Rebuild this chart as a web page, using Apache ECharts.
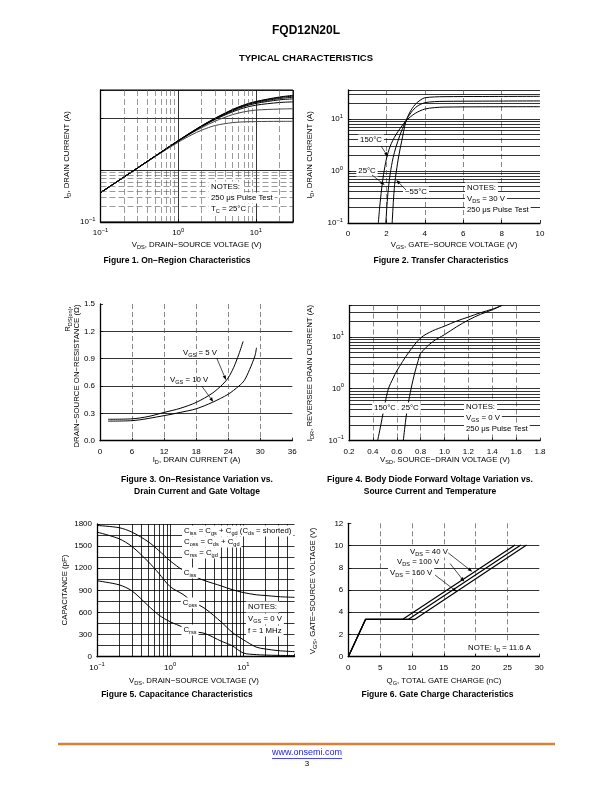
<!DOCTYPE html>
<html><head><meta charset="utf-8">
<script src="https://cdn.jsdelivr.net/npm/echarts@6/dist/echarts.min.js"></script>
<style>html,body{margin:0;padding:0;background:#fff}#c{width:612px;height:792px}</style>
</head><body><div id="c"></div>
<script>
// ---------- DATA ----------
// Figure 1: On-Region Characteristics (VDS vs ID, several VGS)
const fig1Vds = [0.1,0.2,0.5,1,1.5,2,3,5,7,10,20,30];
const fig1Id_a = [0.37,0.74,1.83,3.5,4.9,6.0,7.4,8.4,8.7,8.8,8.9,8.9];
const fig1Id_b = [0.37,0.74,1.85,3.65,5.3,6.7,9.0,12.0,13.6,14.7,15.4,15.6];
const fig1Id_c = [0.37,0.74,1.86,3.7,5.4,7.0,9.7,13.6,16.2,18.3,20.6,21.2];
const fig1Id_d = [0.37,0.74,1.86,3.72,5.45,7.1,9.9,14.2,17.2,19.8,23.2,24.2];
const fig1Id_e = [0.37,0.74,1.87,3.74,5.5,7.2,10.1,14.6,17.8,20.6,24.6,26.0];
const fig1Id_f = [0.37,0.74,1.87,3.76,5.55,7.25,10.2,14.9,18.2,21.2,25.7,27.4];
const fig1Id_g = [0.37,0.74,1.88,3.78,5.6,7.3,10.3,15.1,18.5,21.6,26.3,28.4];
// Figure 2: Transfer Characteristics
const fig2Vgs_150 = [1.58,1.65,1.75,1.85,2.0,2.2,2.5,3.0,3.5,4.0,4.5,5,7,10];
const fig2Id_150  = [0.1,0.2,0.45,0.85,1.7,3.0,5.0,9.0,12.8,15.5,16.5,16.9,17.1,17.2];
const fig2Vgs_25  = [1.97,2.03,2.1,2.2,2.35,2.5,2.7,3.0,3.3,3.6,4.0,4.5,5,7,10];
const fig2Id_25   = [0.1,0.22,0.45,0.9,1.8,2.9,4.8,9.0,13.5,17.5,20.5,21.5,21.8,22,22.2];
const fig2Vgs_m55 = [2.3,2.36,2.43,2.52,2.65,2.8,3.0,3.2,3.5,3.8,4.0,4.5,5,7,10];
const fig2Id_m55  = [0.1,0.25,0.55,1.0,2.0,3.8,8.5,13,19,23.5,25.5,26.5,26.8,27,27.2];
// Figure 3: On-Resistance vs Drain Current
const fig3Id_5v  = [1.5,6,9,12,15,18,21,23,24,25,26,26.8];
const fig3R_5v   = [0.235,0.24,0.265,0.31,0.355,0.42,0.52,0.62,0.69,0.8,0.95,1.09];
const fig3Id_10v = [1.5,6,12,15,18,21,24,26,27,28,29,29.3];
const fig3R_10v  = [0.215,0.22,0.275,0.31,0.35,0.42,0.51,0.6,0.66,0.78,0.93,1.02];
// Figure 4: Body Diode Forward Voltage
const fig4Vsd_150 = [0.44,0.47,0.5,0.53,0.57,0.6,0.7,0.8,0.9,1.0,1.1,1.2,1.3,1.4,1.48];
const fig4Idr_150 = [0.1,0.22,0.5,1.0,1.6,2.2,5,9.5,13,16,20,24,29,34,40];
const fig4Vsd_25  = [0.655,0.675,0.695,0.72,0.75,0.78,0.8,0.9,1.0,1.1,1.2,1.3,1.4,1.48];
const fig4Idr_25  = [0.1,0.25,0.5,1.0,2.0,3.5,4.8,8,11,15.5,21,27,33,40];
// Figure 5: Capacitance Characteristics
const fig5Vds  = [0.1,0.2,0.3,0.5,0.7,1,1.5,2,3,5,7,10,15,20,30,50];
const fig5Ciss = [1780,1750,1690,1560,1440,1300,1170,1100,1030,960,910,870,840,830,815,805];
const fig5Coss = [1690,1600,1495,1290,1130,950,845,752,652,470,333,230,130,105,82,68];
const fig5Crss = [1030,975,893,693,565,474,400,346,314,210,150,50,28,22,18,15];
// Figure 6: Gate Charge Characteristics
const fig6Qg_40  = [0,2.7,8.5,26.2];
const fig6Qg_100 = [0,2.7,9.4,27.1];
const fig6Qg_160 = [0,2.7,10.4,28.0];
const fig6Vgs    = [0,3.35,3.35,10.05];
// grid line values
const logMinor = [0.2,0.3,0.4,0.5,0.6,0.7,0.8,0.9,2,3,4,5,6,7,8,9,20,30];
const fig1VMinor = [0.2,0.3,0.4,0.5,0.6,0.7,0.8,0.9,2,3,4,5,6,7,8,9,20];
const fig1HMinor = [0.2,0.3,0.4,0.5,0.6,0.7,0.8,0.9];
const fig5VMinor = [0.2,0.3,0.4,0.5,0.6,0.7,0.8,0.9,2,3,4,5,6,7,8,9,20,30,40];
const fig5HMinor = [150,450,750,1050,1350,1650];

// ---------- HELPERS ----------
const FF = "'Liberation Sans', Arial, Helvetica, sans-serif";
const RICH = {
  sub:{fontSize:5.6, lineHeight:6, verticalAlign:'bottom', fontFamily:FF, fill:'#000', color:'#000'},
  sup:{fontSize:5.8, lineHeight:6, verticalAlign:'top', fontFamily:FF, fill:'#000', color:'#000'}
};
function pow10(show){
  return function(v){
    const l = Math.log10(v), e = Math.round(l);
    if (Math.abs(l-e) > 1e-6) return '';
    if (show && show.indexOf(e) < 0) return '';
    return '10{sup|' + (e<0 ? '\u2212'+(-e) : e) + '}';
  };
}
function axis(o){
  const a = {
    gridIndex:o.g, type:o.type, min:o.min, max:o.max,
    axisLine:{show:true, onZero:false, lineStyle:{color:'#000', width:1.3}},
    axisTick:{show:true, inside:true, length:3, lineStyle:{color:'#000', width:0.8}},
    axisLabel:{show:true, color:'#000', fontSize:8, fontFamily:FF, margin:5, lineHeight:12, rich:RICH,
      formatter: o.fmt || (v=>String(v))},
    splitLine:{show:true, showMinLine:false, showMaxLine:o.showMax!==false,
      lineStyle:{color:o.dash?'#555':'#000', width:o.dash?0.7:0.8, type:o.dash?[5,3]:'solid'}}
  };
  if (o.interval!=null) a.interval = o.interval;
  return a;
}
function curve(g, xs, ys, o){
  o = o || {};
  return {type:'line', xAxisIndex:g, yAxisIndex:g, data:xs.map((x,i)=>[x,ys[i]]),
    showSymbol:false, symbol:'none', smooth:o.smooth===undefined?0.3:o.smooth, silent:true, z:4,
    lineStyle:{color:o.color||'#000', width:o.w||1}};
}
function gridLines(g, xs, ys, style, anchor){
  const d = [];
  xs.forEach(v=>d.push({xAxis:v}));
  ys.forEach(v=>d.push({yAxis:v}));
  return {type:'line', xAxisIndex:g, yAxisIndex:g, data:[anchor], showSymbol:false, symbol:'none',
    lineStyle:{width:0, opacity:0}, silent:true, z:2,
    markLine:{silent:true, symbol:['none','none'], label:{show:false}, animation:false,
      emphasis:{disabled:true}, lineStyle:style, data:d}};
}
function T(x,y,text,o){
  o = o || {};
  const st = {text:text, x:0, y:0, align:o.align||'center', verticalAlign:o.va||'middle',
    fontSize:o.fs||7.8, fontWeight:o.fw||'normal', fontFamily:FF, fill:o.color||'#000',
    lineHeight:o.lh||11, rich:RICH};
  if (o.bg) { st.backgroundColor = o.bg; st.padding = o.pad || [0,2,0,2]; }
  return {type:'text', x:x, y:y, rotation:o.rot||0, z:o.z||60, silent:true, style:st};
}
function arrow(x1,y1,x2,y2){
  const a = Math.atan2(y2-y1, x2-x1), L = 4.5, W = 1.7;
  const bx = x2 - L*Math.cos(a), by = y2 - L*Math.sin(a);
  return [
    {type:'line', z:61, silent:true, shape:{x1:x1,y1:y1,x2:bx,y2:by}, style:{stroke:'#000', lineWidth:0.7}},
    {type:'polygon', z:61, silent:true, shape:{points:[[x2,y2],[bx+W*Math.sin(a), by-W*Math.cos(a)],[bx-W*Math.sin(a), by+W*Math.cos(a)]]}, style:{fill:'#000'}}
  ];
}

// ---------- OPTION ----------
const grids = [
  {left:100.5, top:90, width:192.5, height:132, show:true, borderColor:'#000', borderWidth:1},
  {left:348, top:90, width:192, height:133},
  {left:100, top:304, width:192.3, height:136.7},
  {left:349, top:305.5, width:191, height:135.2},
  {left:97, top:524, width:197.5, height:132.7},
  {left:348.3, top:523.3, width:191, height:133.4}
].map(g=>Object.assign({containLabel:false, outerBoundsMode:'none'}, g));

const xAxes = [
  axis({g:0, type:'log', min:0.1, max:30, fmt:pow10()}),
  axis({g:1, type:'value', min:0, max:10, interval:2, dash:true, showMax:false}),
  axis({g:2, type:'value', min:0, max:36, interval:6, dash:true, showMax:false}),
  axis({g:3, type:'value', min:0.2, max:1.8, interval:0.2, dash:true, showMax:false, fmt:v=>v.toFixed(1)}),
  axis({g:4, type:'log', min:0.1, max:50, fmt:pow10(), showMax:false}),
  axis({g:5, type:'value', min:0, max:30, interval:5, dash:true, showMax:false})
];
const yAxes = [
  axis({g:0, type:'log', min:0.1, max:36, fmt:pow10([-1])}),
  axis({g:1, type:'log', min:0.1, max:36, fmt:pow10()}),
  axis({g:2, type:'value', min:0, max:1.5, interval:0.3, showMax:false, fmt:v=>v.toFixed(1)}),
  axis({g:3, type:'log', min:0.1, max:40, fmt:pow10()}),
  axis({g:4, type:'value', min:0, max:1800, interval:300}),
  axis({g:5, type:'value', min:0, max:12, interval:2, showMax:false})
];

const solidGrid = {color:'#000', width:0.8, type:'solid'};
const dashGrid = {color:'#555', width:0.6, type:[6,3]};
const series = [
  gridLines(0, fig1VMinor, [], dashGrid, [1,1]),
  gridLines(0, [], fig1HMinor, dashGrid, [1,1]),
  gridLines(1, [], logMinor, solidGrid, [5,1]),
  gridLines(3, [], logMinor, solidGrid, [1,1]),
  gridLines(4, fig5VMinor, fig5HMinor, solidGrid, [1,900]),
  curve(0, fig1Vds, fig1Id_a, {color:'#444'}),
  curve(0, fig1Vds, fig1Id_b, {color:'#444'}),
  curve(0, fig1Vds, fig1Id_c),
  curve(0, fig1Vds, fig1Id_d),
  curve(0, fig1Vds, fig1Id_e),
  curve(0, fig1Vds, fig1Id_f),
  curve(0, fig1Vds, fig1Id_g),
  curve(1, fig2Vgs_150, fig2Id_150),
  curve(1, fig2Vgs_25, fig2Id_25),
  curve(1, fig2Vgs_m55, fig2Id_m55),
  curve(2, fig3Id_5v, fig3R_5v),
  curve(2, fig3Id_10v, fig3R_10v),
  curve(3, fig4Vsd_150, fig4Idr_150),
  curve(3, fig4Vsd_25, fig4Idr_25),
  curve(4, fig5Vds, fig5Ciss),
  curve(4, fig5Vds, fig5Coss),
  curve(4, fig5Vds, fig5Crss),
  curve(5, fig6Qg_40, fig6Vgs, {smooth:false, w:1.2}),
  curve(5, fig6Qg_100, fig6Vgs, {smooth:false, w:1.2}),
  curve(5, fig6Qg_160, fig6Vgs, {smooth:false, w:1.2})
];

const W = '#fff';
let g = [
  // header
  T(306, 31, 'FQD12N20L', {fs:12, fw:'bold'}),
  T(306, 58, 'TYPICAL CHARACTERISTICS', {fs:9.5, fw:'bold'}),
  // fig 1
  T(196.7, 245, 'V{sub|DS}, DRAIN\u2212SOURCE VOLTAGE (V)'),
  T(66.7, 155, 'I{sub|D}, DRAIN CURRENT (A)', {rot:Math.PI/2}),
  T(177, 261, 'Figure 1. On\u2212Region Characteristics', {fs:8.5, fw:'bold'}),
  T(209, 187, 'NOTES:', {align:'left', bg:W}),
  T(209, 198, '250 \u03bcs Pulse Test', {align:'left', bg:W}),
  T(209, 209, 'T{sub|C} = 25\u00b0C', {align:'left', bg:W}),
  // fig 2
  T(454, 245, 'V{sub|GS}, GATE\u2212SOURCE VOLTAGE (V)'),
  T(310, 155, 'I{sub|D}, DRAIN CURRENT (A)', {rot:Math.PI/2}),
  T(441, 261, 'Figure 2. Transfer Characteristics', {fs:8.5, fw:'bold'}),
  T(371, 140, '150\u00b0C', {bg:W}),
  T(367, 171, '25\u00b0C', {bg:W}),
  T(416, 192, '\u221255\u00b0C', {bg:W}),
  T(465, 188, 'NOTES:', {align:'left', bg:W}),
  T(465, 199, 'V{sub|DS} = 30 V', {align:'left', bg:W}),
  T(465, 210, '250 \u03bcs Pulse Test', {align:'left', bg:W}),
  // fig 3
  T(196.5, 460, 'I{sub|D}, DRAIN CURRENT (A)'),
  T(68.3, 319, 'R{sub|DS(on)},', {rot:Math.PI/2}),
  T(76.7, 376, 'DRAIN\u2212SOURCE ON\u2212RESISTANCE (\u03a9)', {rot:Math.PI/2}),
  T(197, 480, 'Figure 3. On\u2212Resistance Variation vs.', {fs:8.5, fw:'bold'}),
  T(197, 492, 'Drain Current and Gate Voltage', {fs:8.5, fw:'bold'}),
  T(183, 353, 'V{sub|GS} = 5 V', {align:'left'}),
  T(170, 380, 'V{sub|GS} = 10 V', {align:'left'}),
  // fig 4
  T(445, 460, 'V{sub|SD}, SOURCE\u2212DRAIN VOLTAGE (V)'),
  T(310, 373, 'I{sub|DR}, REVERSEE DRAIN CURRENT (A)', {rot:Math.PI/2}),
  T(430, 480, 'Figure 4. Body Diode Forward Voltage Variation vs.', {fs:8.5, fw:'bold'}),
  T(430, 492, 'Source Current and Temperature', {fs:8.5, fw:'bold'}),
  T(385, 408, '150\u00b0C', {bg:W}),
  T(398, 408, '.', {bg:W}),
  T(410, 408, '25\u00b0C', {bg:W}),
  T(464, 407, 'NOTES:', {align:'left', bg:W}),
  T(464, 418, 'V{sub|GS} = 0 V', {align:'left', bg:W}),
  T(464, 429, '250 \u03bcs Pulse Test', {align:'left', bg:W}),
  // fig 5
  T(194, 681, 'V{sub|DS}, DRAIN\u2212SOURCE VOLTAGE (V)'),
  T(65, 590, 'CAPACITANCE (pF)', {rot:Math.PI/2}),
  T(177, 695, 'Figure 5. Capacitance Characteristics', {fs:8.5, fw:'bold'}),
  T(182, 531, 'C{sub|iss} = C{sub|gs} + C{sub|gd} (C{sub|ds} = shorted)', {align:'left', bg:W}),
  T(182, 542, 'C{sub|oss} = C{sub|ds} + C{sub|gd}', {align:'left', bg:W}),
  T(182, 553, 'C{sub|rss} = C{sub|gd}', {align:'left', bg:W}),
  T(190, 573, 'C{sub|iss}', {bg:W}),
  T(190, 603, 'C{sub|oss}', {bg:W}),
  T(190, 630, 'C{sub|rss}', {bg:W}),
  T(246, 607, 'NOTES:', {align:'left', bg:W}),
  T(246, 619, 'V{sub|GS} = 0 V', {align:'left', bg:W}),
  T(246, 631, 'f = 1 MHz', {align:'left', bg:W}),
  // fig 6
  T(444, 681, 'Q{sub|G}, TOTAL GATE CHARGE (nC)'),
  T(313, 591, 'V{sub|GS}, GATE\u2212SOURCE VOLTAGE (V)', {rot:Math.PI/2}),
  T(437.5, 695, 'Figure 6. Gate Charge Characteristics', {fs:8.5, fw:'bold'}),
  T(408, 552, 'V{sub|DS} = 40 V', {align:'left', bg:W}),
  T(395, 562, 'V{sub|DS} = 100 V', {align:'left', bg:W}),
  T(388, 573, 'V{sub|DS} = 160 V', {align:'left', bg:W}),
  T(466, 648, 'NOTE: I{sub|D} = 11.6 A', {align:'left', bg:W}),
  // footer
  {type:'line', silent:true, shape:{x1:58,y1:744,x2:555,y2:744}, style:{stroke:'#d98038', lineWidth:2.5}},
  T(307, 753, 'www.onsemi.com', {fs:9, color:'#1a1aee'}),
  {type:'line', silent:true, shape:{x1:272,y1:758.5,x2:342,y2:758.5}, style:{stroke:'#1a1aee', lineWidth:0.8}},
  T(307, 764, '3', {fs:8})
];
g = g.concat(
  arrow(381,146,388,156.7), arrow(372,175,384.7,185), arrow(406,190,396.3,180),
  arrow(216.7,358,226,380), arrow(201.7,386,213.3,402),
  arrow(448.3,553,472.3,571.7), arrow(450,563.5,464.3,581.7), arrow(435,575,456.7,591.7)
);

const chart = echarts.init(document.getElementById('c'), null, {renderer:'canvas'});
chart.setOption({
  animation:false,
  backgroundColor:'#fff',
  grid:grids, xAxis:xAxes, yAxis:yAxes, series:series, graphic:g
});
</script></body></html>
